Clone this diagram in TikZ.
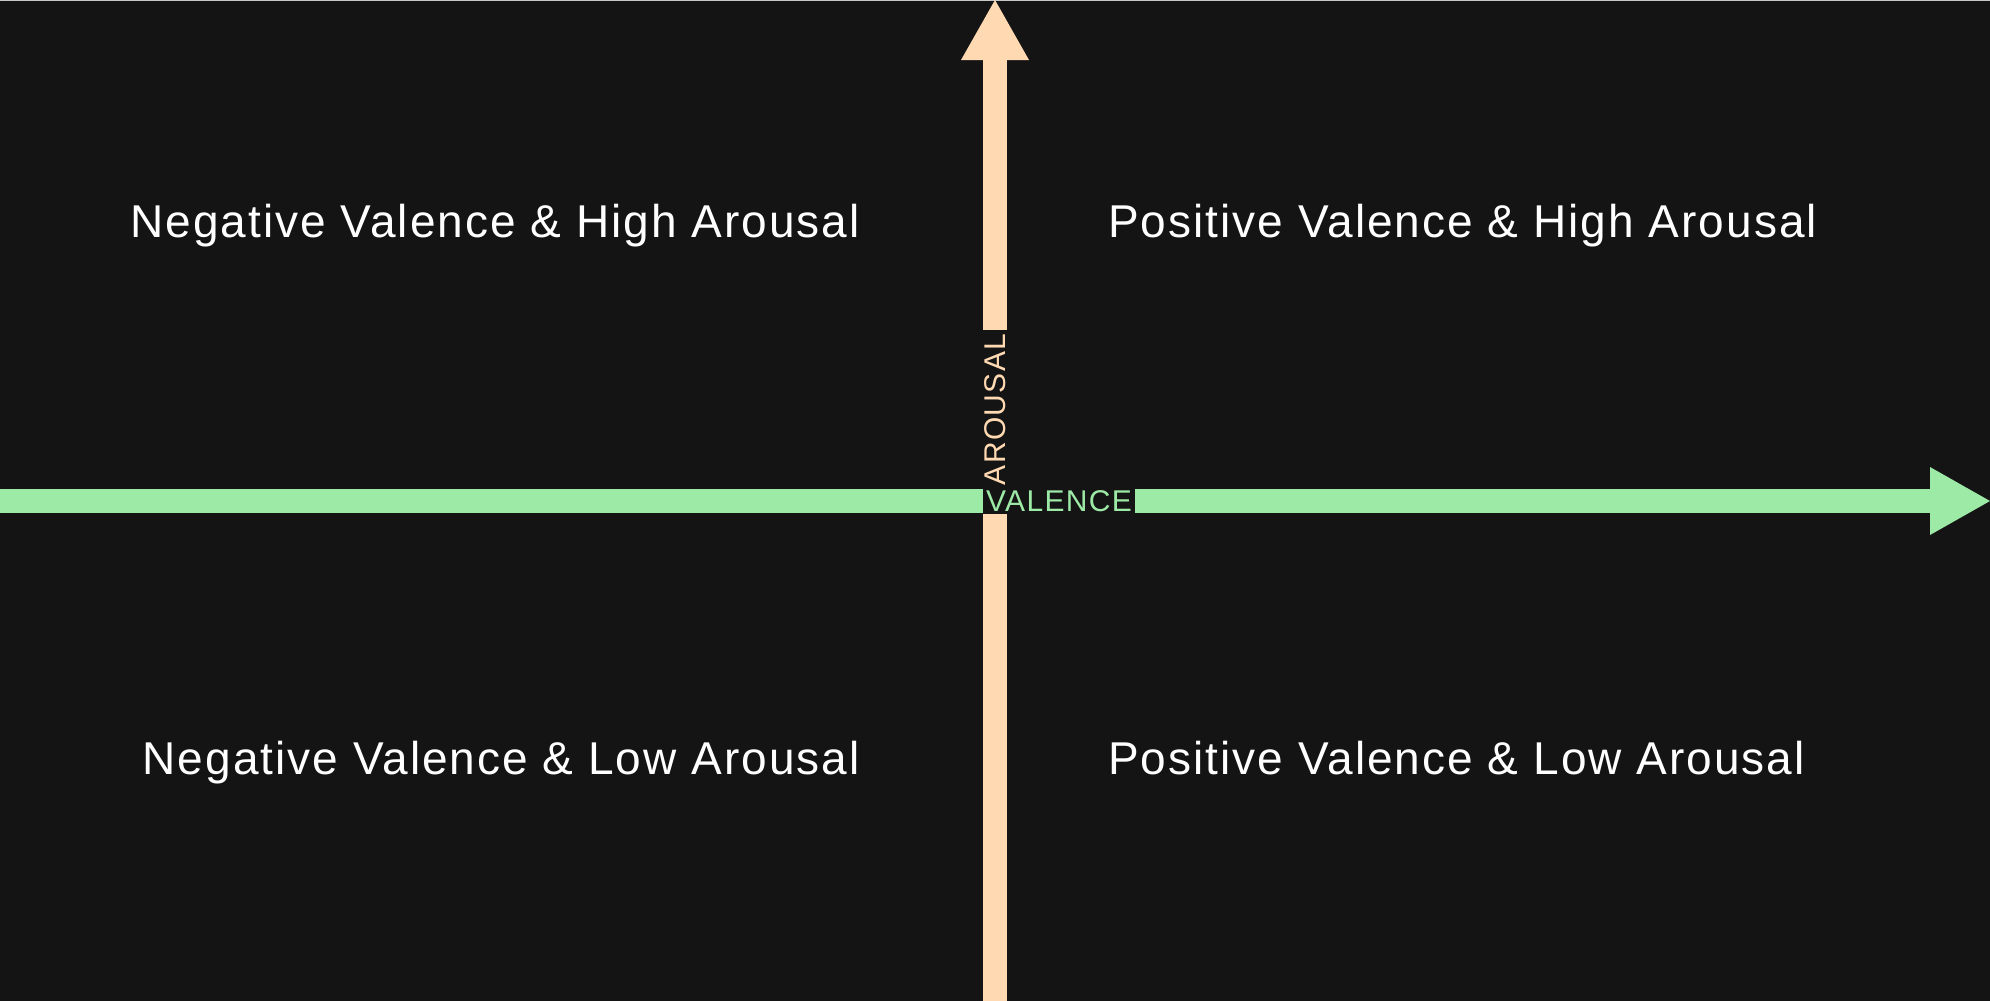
\documentclass[tikz,border=0pt]{standalone}
\usepackage{fontspec}
\setmainfont[LetterSpace=4.4]{Liberation Sans}
\usetikzlibrary{arrows.meta}

\definecolor{bg}{HTML}{141414}
\definecolor{rim}{HTML}{C8C8C8}
\definecolor{peach}{HTML}{FFD9B2}
\definecolor{mint}{HTML}{9DE9A6}

\tikzset{
    axisline/.style={line width=#1, -{Triangle[length=60pt, width=68pt, line width=0pt]}},
    axislabel/.style={fill=bg, inner sep=0pt, font=\fontsize{30}{36}\selectfont},
    quadrant/.style={text=white, inner sep=0pt, font=\fontsize{46}{55}\selectfont},
}

\begin{document}
\begin{tikzpicture}[x=1pt, y=-1pt]
    \fill[bg] (0,0) rectangle (1990,1001);
    \useasboundingbox (0,0) rectangle (1990,1001);
    \fill[rim] (0,0) rectangle (1990,1.2);

    % axes
    \coordinate (south) at (995,1001);
    \coordinate (north) at (995,0);
    \coordinate (west) at (0,501);
    \coordinate (east) at (1990,501);
    \draw[peach, axisline=23.5pt] (south) -- (north);
    \draw[mint, axisline=24pt] (west) -- (east);

    \node[axislabel, text=mint, minimum width=152pt, minimum height=25pt] (valence) at (1059,501) {VALENCE};
    \node[axislabel, text=peach, rotate=90, minimum width=159pt, minimum height=26pt] (arousal) at (995,409.5) {AROUSAL};

    % quadrants
    \node[quadrant, anchor=base east] (nh) at (860,237.5) {Negative Valence \& High Arousal};
    \node[quadrant, anchor=base west] (ph) at (1108,237.5) {Positive Valence \& High Arousal};
    \node[quadrant, anchor=base east] (nl) at (860,774) {Negative Valence \& Low Arousal};
    \node[quadrant, anchor=base west] (pl) at (1108,774) {Positive Valence \& Low Arousal};
\end{tikzpicture}
\end{document}
